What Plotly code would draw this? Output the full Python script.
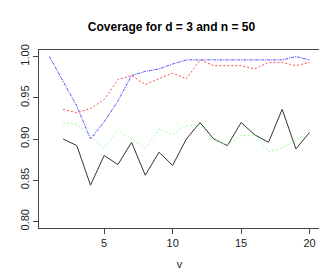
import plotly.graph_objects as go

v_all = list(range(1, 21))
v = list(range(2, 21))

blue = [1.000, 0.970, 0.940, 0.900, 0.921, 0.946, 0.977, 0.982, 0.985, 0.991,
        0.996, 0.996, 0.996, 0.996, 0.996, 0.996, 0.996, 0.996, 1.000, 0.996]
red = [0.936, 0.932, 0.937, 0.948, 0.972, 0.977, 0.966, 0.973, 0.980, 0.973,
       0.996, 0.989, 0.989, 0.989, 0.985, 0.993, 0.993, 0.989, 0.993]
black = [0.900, 0.892, 0.844, 0.880, 0.869, 0.896, 0.856, 0.884, 0.868, 0.900,
         0.920, 0.900, 0.892, 0.920, 0.905, 0.896, 0.936, 0.888, 0.908]
green = [0.920, 0.918, 0.903, 0.889, 0.911, 0.900, 0.889, 0.912, 0.905, 0.916,
         0.917, 0.899, 0.893, 0.904, 0.905, 0.885, 0.889, 0.898, 0.911]

xticks = [5, 10, 15, 20]
yticks = [0.80, 0.85, 0.90, 0.95, 1.00]
yticklabels = ["0.80", "0.85", "0.90", "0.95", "1.00"]

fig = go.Figure()
fig.add_trace(go.Scatter(x=v, y=black, mode="lines",
                         line=dict(color="#333333", width=1)))
fig.add_trace(go.Scatter(x=v, y=red, mode="lines",
                         line=dict(color="#ff4d4d", width=1, dash="2px,2px")))
fig.add_trace(go.Scatter(x=v, y=green, mode="lines",
                         line=dict(color="#99ff99", width=1, dash="2px,2px")))
fig.add_trace(go.Scatter(x=v_all, y=blue, mode="lines",
                         line=dict(color="#4d4dff", width=1, dash="3px,1px,1px,1px")))

axis_common = dict(showgrid=False, zeroline=False, showline=True, mirror=True,
                   linecolor="#444444", linewidth=1, ticks="outside", ticklen=5,
                   tickcolor="#444444", tickfont=dict(family="Liberation Sans", size=11, color="#222222"))

fig.update_layout(
    width=327, height=273,
    margin=dict(l=31, r=15, t=42, b=53),
    paper_bgcolor="white", plot_bgcolor="white",
    showlegend=False,
    title=dict(text="<b>Coverage for d = 3 and n = 50</b>", x=0.5, xanchor="center",
               y=1 - 19 / 273, yanchor="middle",
               font=dict(family="Liberation Sans", size=12, color="black")),
    xaxis=dict(range=[0.24, 20.76], tickvals=xticks,
               title=dict(text="v", standoff=12, font=dict(family="Liberation Sans", size=11, color="#222222")),
               **axis_common),
    yaxis=dict(range=[0.792, 1.008], tickvals=yticks, ticktext=yticklabels, tickangle=-90,
               **axis_common),
)

fig.write_html("out.html")
